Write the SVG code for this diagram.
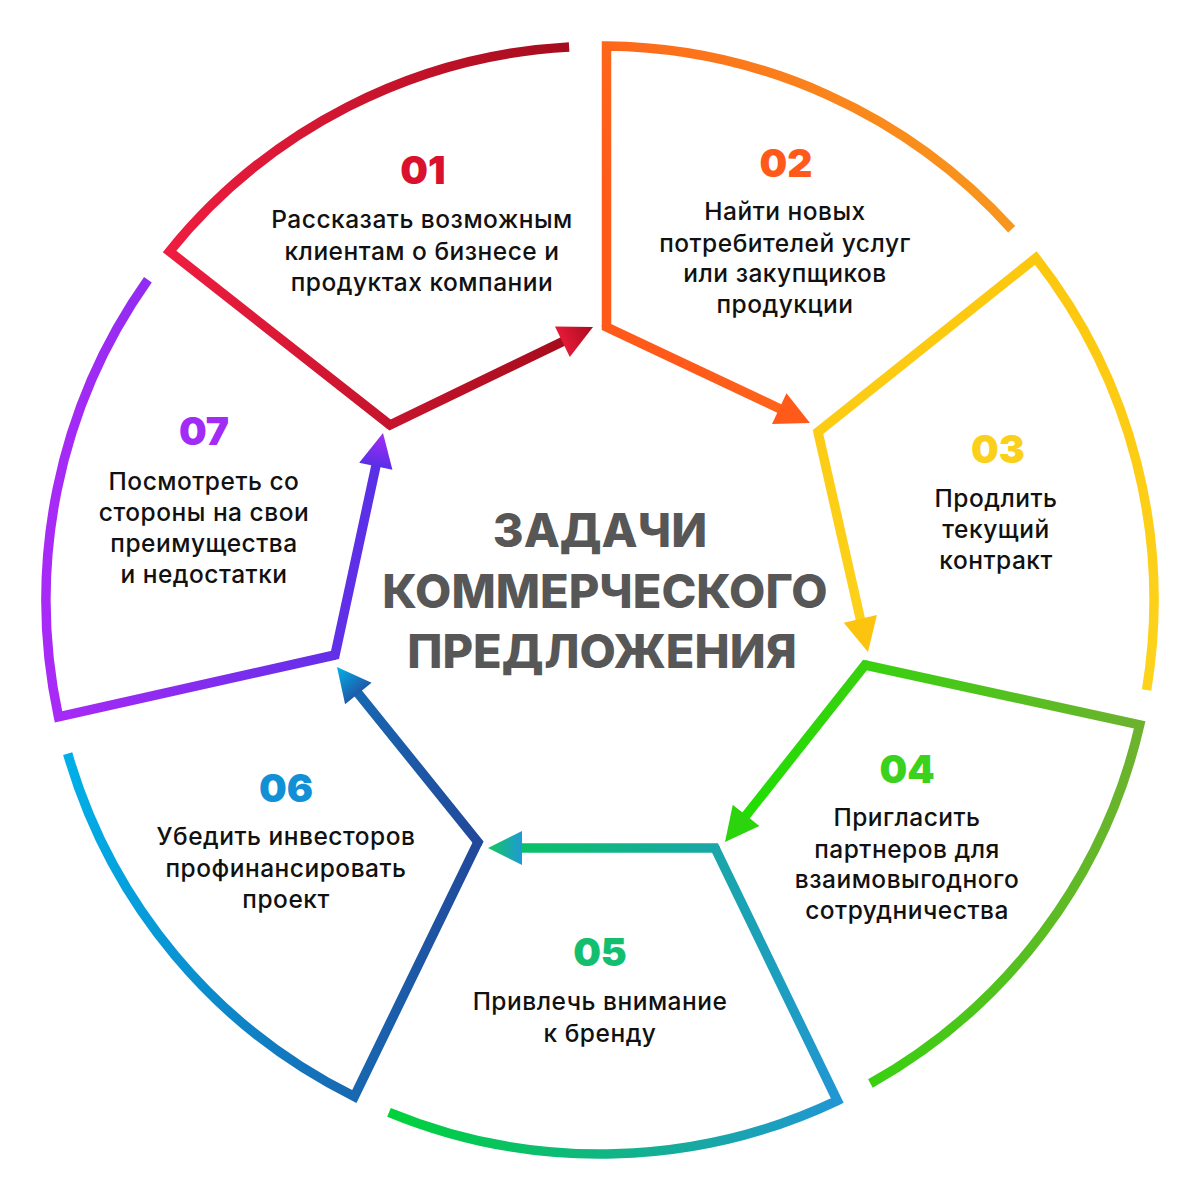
<svg xmlns="http://www.w3.org/2000/svg" xmlns:xlink="http://www.w3.org/1999/xlink" width="1200" height="1200" viewBox="0 0 1200 1200">
<defs>
<style>
.outline{fill:none;stroke-width:9.5;stroke-linejoin:miter;stroke-miterlimit:10;stroke-linecap:butt}
.num{font-family:Inter,"Open Sans",sans-serif;font-weight:900;font-size:39px;text-anchor:middle}
.txt{font-family:Inter,"Open Sans",sans-serif;font-weight:500;font-size:24.5px;letter-spacing:0.5px;fill:#111;text-anchor:middle}
.title{font-family:Inter,"Open Sans",sans-serif;font-weight:800;font-size:47px;fill:#575757;text-anchor:middle}
</style>
<path id="ah" d="M0,0 L-34,-17 L-34,17 Z"/>
<linearGradient id="g1" gradientUnits="userSpaceOnUse" x1="168" y1="0" x2="595" y2="0"><stop offset="0" stop-color="#ef1d40"/><stop offset="1" stop-color="#a00b1a"/></linearGradient>
<linearGradient id="g2" gradientUnits="userSpaceOnUse" x1="700" y1="380" x2="1010" y2="220"><stop offset="0" stop-color="#ff5a1a"/><stop offset="1" stop-color="#f8961c"/></linearGradient>
<linearGradient id="g3" gradientUnits="userSpaceOnUse" x1="0" y1="260" x2="0" y2="690"><stop offset="0" stop-color="#fcc80f"/><stop offset="1" stop-color="#fdd31c"/></linearGradient>
<linearGradient id="g4" gradientUnits="userSpaceOnUse" x1="730" y1="0" x2="1140" y2="0"><stop offset="0" stop-color="#1ee000"/><stop offset="1" stop-color="#6db22e"/></linearGradient>
<linearGradient id="g5" gradientUnits="userSpaceOnUse" x1="390" y1="0" x2="840" y2="0"><stop offset="0" stop-color="#00d23a"/><stop offset="1" stop-color="#2196d4"/></linearGradient>
<linearGradient id="g6" gradientUnits="userSpaceOnUse" x1="65" y1="0" x2="480" y2="0"><stop offset="0" stop-color="#00b0e8"/><stop offset="1" stop-color="#22489a"/></linearGradient>
<linearGradient id="g7" gradientUnits="userSpaceOnUse" x1="55" y1="0" x2="390" y2="0"><stop offset="0" stop-color="#a82af6"/><stop offset="1" stop-color="#5530e6"/></linearGradient>
<linearGradient id="a1" x1="0" y1="0" x2="1" y2="0"><stop offset="0" stop-color="#e41a38"/><stop offset="1" stop-color="#a80c1c"/></linearGradient>
<linearGradient id="a5" x1="0" y1="0" x2="1" y2="0"><stop offset="0" stop-color="#1e9ad6"/><stop offset="1" stop-color="#12c85c"/></linearGradient>
<linearGradient id="a6" x1="0" y1="0" x2="1" y2="0"><stop offset="0" stop-color="#1e5aa8"/><stop offset="1" stop-color="#03b2ea"/></linearGradient>
<linearGradient id="a7" x1="0" y1="0" x2="1" y2="0"><stop offset="0" stop-color="#5a2ee6"/><stop offset="1" stop-color="#a52cf6"/></linearGradient>
</defs>
<rect width="1200" height="1200" fill="#fff"/>

<g id="title">
<text class="title" x="600" y="547">ЗАДАЧИ</text>
<text class="title" x="605" y="608">КОММЕРЧЕСКОГО</text>
<text class="title" x="602" y="668">ПРЕДЛОЖЕНИЯ</text>
</g>

<g id="node01">
<path class="outline" stroke="url(#g1)" d="M569.1,46.9 A554,554 0 0 0 169.5,251.4 L390,425"/>
<text class="num" x="423" y="184" fill="#d9112e">01</text>
<text class="txt" x="422" y="228">Рассказать возможным</text>
<text class="txt" x="422" y="260">клиентам о бизнесе и</text>
<text class="txt" x="422" y="291">продуктах компании</text>
</g>

<g id="node02">
<path class="outline" stroke="url(#g2)" d="M1011.7,229.3 A554,554 0 0 0 606.5,46 L606.5,327"/>
<text class="num" x="786" y="177" fill="#ff5a1a">02</text>
<text class="txt" x="785" y="220">Найти новых</text>
<text class="txt" x="785" y="252">потребителей услуг</text>
<text class="txt" x="785" y="282">или закупщиков</text>
<text class="txt" x="785" y="313">продукции</text>
</g>

<g id="node03">
<path class="outline" stroke="url(#g3)" d="M1146.6,689.9 A554,554 0 0 0 1035.8,258 L818,432"/>
<text class="num" x="998" y="463" fill="#fbd01a">03</text>
<text class="txt" x="996" y="507">Продлить</text>
<text class="txt" x="996" y="538">текущий</text>
<text class="txt" x="996" y="569">контракт</text>
</g>

<g id="node04">
<path class="outline" stroke="url(#g4)" d="M870.4,1083.5 A554,554 0 0 0 1139.7,724.9 L865,665"/>
<text class="num" x="907" y="783" fill="#3bd11c">04</text>
<text class="txt" x="907" y="826">Пригласить</text>
<text class="txt" x="907" y="858">партнеров для</text>
<text class="txt" x="907" y="888">взаимовыгодного</text>
<text class="txt" x="907" y="919">сотрудничества</text>
</g>

<g id="node05">
<path class="outline" stroke="url(#g5)" d="M389,1112.3 A554,554 0 0 0 837.3,1100.6 L715,848"/>
<text class="num" x="600" y="966" fill="#13bf6f">05</text>
<text class="txt" x="600" y="1010">Привлечь внимание</text>
<text class="txt" x="600" y="1042">к бренду</text>
</g>

<g id="node06">
<path class="outline" stroke="url(#g6)" d="M67.7,753.6 A554,554 0 0 0 354.3,1096.5 L478,842"/>
<text class="num" x="286" y="802" fill="#1190d5">06</text>
<text class="txt" x="286" y="845">Убедить инвесторов</text>
<text class="txt" x="286" y="877">профинансировать</text>
<text class="txt" x="286" y="908">проект</text>
</g>

<g id="node07">
<path class="outline" stroke="url(#g7)" d="M147.9,279.8 A554,554 0 0 0 58.5,716.9 L335,655"/>
<text class="num" x="204" y="445" fill="#a02cf6">07</text>
<text class="txt" x="204" y="490">Посмотреть со</text>
<text class="txt" x="204" y="521">стороны на свои</text>
<text class="txt" x="204" y="552">преимущества</text>
<text class="txt" x="204" y="583">и недостатки</text>
</g>

<g id="connectors">
<path class="outline" stroke="url(#g1)" d="M388.4,423.8 L390,425 L566,340"/>
<use href="#ah" fill="url(#a1)" transform="translate(593,327) rotate(-25.77)"/>
<path class="outline" stroke="url(#g2)" d="M606.5,325 L606.5,327 L782.9,410.2"/>
<use href="#ah" fill="#ff5a1a" transform="translate(810,423) rotate(25.2)"/>
<path class="outline" stroke="url(#g3)" d="M819.6,430.8 L818,432 L861.2,622.8"/>
<use href="#ah" fill="#fcc30f" transform="translate(868,652) rotate(76.95)"/>
<path class="outline" stroke="url(#g4)" d="M867,665.4 L865,665 L743.6,818.5"/>
<use href="#ah" fill="#2cd40e" transform="translate(725,842) rotate(128.34)"/>
<path class="outline" stroke="url(#g5)" d="M715.9,849.8 L715,848 L518,848"/>
<use href="#ah" fill="url(#a5)" transform="translate(488,848) rotate(180)"/>
<path class="outline" stroke="url(#g6)" d="M477.1,843.8 L478,842 L355.8,690.4"/>
<use href="#ah" fill="url(#a6)" transform="translate(337,667) rotate(-128.85)"/>
<path class="outline" stroke="url(#g7)" d="M333,655.4 L335,655 L376.7,462.3"/>
<use href="#ah" fill="url(#a7)" transform="translate(383,433) rotate(-77.8)"/>
</g>
</svg>
